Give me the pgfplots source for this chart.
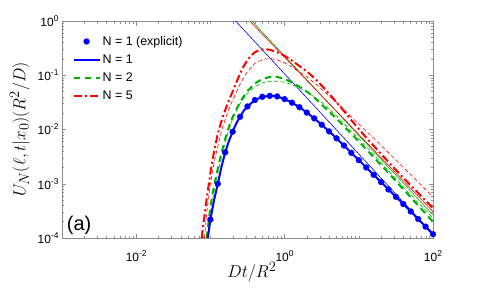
\documentclass[border=0pt]{standalone}
\usepackage{pgfplots}
\pgfplotsset{compat=1.18}
\usepackage{fontspec}
\setmainfont{Liberation Sans}
\definecolor{mblue}{rgb}{0,0,1}
\definecolor{mgreen}{rgb}{0,0.7,0}
\definecolor{mred}{rgb}{1,0,0}
\definecolor{axgray}{RGB}{140,140,140}
\newcommand{\tl}[1]{10\raisebox{0.8ex}{\fontsize{8.5}{9}\selectfont #1}}
\begin{document}
\begin{tikzpicture}
\begin{axis}[
  at={(0,0)}, anchor=south west,
  scale only axis, width=371bp, height=217bp,
  xmode=log, ymode=log,
  xmin=1e-3, xmax=1e2, ymin=1e-4, ymax=1,
  xtick={1e-2,1,1e2}, xticklabels={\tl{-2},\tl{0},\tl{2}},
  minor xtick={0.002,0.003,0.004,0.005,0.006,0.007,0.008,0.009,0.02,0.03,0.04,0.05,0.06,0.07,0.08,0.09,0.1,0.2,0.3,0.4,0.5,0.6,0.7,0.8,0.9,2,3,4,5,6,7,8,9,10,20,30,40,50,60,70,80,90},
  ytick={1e-4,1e-3,1e-2,1e-1,1}, yticklabels={\tl{-4},\tl{-3},\tl{-2},\tl{-1},\tl{0}},
  minor ytick={2e-4,3e-4,4e-4,5e-4,6e-4,7e-4,8e-4,9e-4,2e-3,3e-3,4e-3,5e-3,6e-3,7e-3,8e-3,9e-3,2e-2,3e-2,4e-2,5e-2,6e-2,7e-2,8e-2,9e-2,0.2,0.3,0.4,0.5,0.6,0.7,0.8,0.9},
  tick align=inside, major tick length=4.5bp, minor tick length=2.5bp,
  axis line style={axgray}, every tick/.style={axgray},
  tick label style={font=\fontsize{12}{14}\selectfont},
  xticklabel style={anchor=center, yshift=-18bp},
  xlabel={$Dt/R^2$}, ylabel={$U_N(\ell,t|x_0)(R^2/D)$},
  label style={font=\fontsize{19}{22}\selectfont},
  xlabel style={at={(axis description cs:0.512,-0.158)}, anchor=center},
  ylabel style={at={(axis description cs:-0.114,0.5)}, anchor=center},
  legend style={draw=none, fill=none, at={(axis description cs:0.028,0.94)}, anchor=north west,
    font=\fontsize{12.5}{14}\selectfont, row sep=4bp, inner sep=0pt},
  legend cell align=left,
  legend image code/.code={\draw[mark repeat=2,mark phase=2,#1] plot coordinates {(0bp,0bp) (13bp,0bp) (26bp,0bp)};},
]
% thin asymptotes
\addplot[forget plot, mblue, line width=0.6bp] coordinates {(0.1995,1.146) (100,1.175e-4)};
\addplot[forget plot, mgreen, line width=0.6bp] coordinates {(0.3162,1.225) (100,2.655e-4)};
\addplot[forget plot, mred, line width=0.6bp] coordinates {(0.3162,1.104) (100,3.055e-4)};
% thin dashed approximations
\addplot[forget plot, mgreen, line width=0.6bp, dash pattern=on 4bp off 2.5bp] coordinates {
(0.0912,1e-4) (0.1,2.818e-4) (0.1122,7.413e-4) (0.1259,1.585e-3) (0.1413,3.162e-3) (0.1585,5.754e-3)
(0.1778,1.0e-2) (0.1995,1.585e-2) (0.2512,3.020e-2) (0.3162,4.677e-2) (0.3981,6.166e-2) (0.5012,7.244e-2)
(0.6310,7.762e-2) (0.7943,7.762e-2) (1,7.413e-2) (1.259,6.761e-2) (1.585,5.888e-2) (1.995,4.898e-2)
(2.512,3.981e-2) (3.162,3.162e-2) (3.981,2.399e-2) (5.012,1.778e-2) (6.310,1.288e-2) (7.943,9.333e-3)
(10,6.761e-3) (15.85,3.467e-3) (25.12,1.738e-3) (39.81,8.710e-4) (63.10,4.467e-4) (100,2.344e-4)};
\addplot[forget plot, mred, line width=0.6bp, dash pattern=on 4bp off 2.5bp] coordinates {
(0.0832,1e-4) (0.0891,2.818e-4) (0.1,1e-3) (0.1122,2.399e-3) (0.1259,5.012e-3) (0.1413,9.333e-3)
(0.1585,1.549e-2) (0.1778,2.399e-2) (0.1995,3.467e-2) (0.2512,6.918e-2) (0.3162,1.175e-1) (0.3981,1.660e-1)
(0.5012,1.950e-1) (0.6310,2.042e-1) (0.7943,1.928e-1) (1,1.698e-1) (1.259,1.413e-1) (1.585,1.148e-1)
(1.995,9.333e-2) (2.512,7.244e-2) (3.162,5.495e-2) (3.981,4.169e-2) (5.012,3.162e-2) (6.310,2.344e-2)
(7.943,1.698e-2) (10,1.259e-2) (15.85,6.918e-3) (25.12,3.715e-3) (39.81,1.995e-3) (63.10,1.072e-3) (100,5.754e-4)};
% N = 5 thick dash-dot
\addplot[forget plot, mred, line width=2bp, dash pattern=on 8bp off 3bp on 2bp off 3bp] coordinates {
(0.0764,1e-4) (0.0794,1.585e-4) (0.0891,5.248e-4) (0.1,1.585e-3) (0.1122,3.981e-3) (0.1259,8.318e-3)
(0.1413,1.445e-2) (0.1585,2.291e-2) (0.1778,3.467e-2) (0.1995,5.012e-2) (0.2239,7.413e-2) (0.2512,1.072e-1)
(0.2818,1.479e-1) (0.3162,1.905e-1) (0.3548,2.317e-1) (0.3981,2.661e-1) (0.4467,2.884e-1) (0.5012,2.985e-1)
(0.5623,3.006e-1) (0.6310,2.951e-1) (0.7943,2.661e-1) (1,2.291e-1) (1.259,1.862e-1) (1.585,1.479e-1)
(1.995,1.175e-1) (2.512,8.913e-2) (3.162,6.457e-2) (3.981,4.571e-2) (5.012,3.162e-2) (6.310,2.188e-2)
(7.943,1.479e-2) (10,1.023e-2) (12.59,7.079e-3) (15.85,5.012e-3) (25.12,2.512e-3) (39.81,1.288e-3)
(63.10,6.761e-4) (100,3.548e-4)};
% N = 2 thick dashed
\addplot[forget plot, mgreen, line width=2bp, dash pattern=on 6.5bp off 4.5bp] coordinates {
(0.0891,1e-4) (0.1,3.802e-4) (0.1122,9.333e-4) (0.1259,1.905e-3) (0.1413,3.715e-3) (0.1585,6.761e-3)
(0.1778,1.109e-2) (0.1995,1.698e-2) (0.2512,3.236e-2) (0.3162,5.129e-2) (0.3981,7.079e-2) (0.5012,8.511e-2)
(0.6310,9.333e-2) (0.7079,9.441e-2) (0.7943,9.333e-2) (1,8.511e-2) (1.259,7.413e-2) (1.585,6.166e-2)
(1.995,5.012e-2) (2.512,3.890e-2) (3.162,2.884e-2) (3.981,2.138e-2) (5.012,1.585e-2) (6.310,1.148e-2)
(7.943,8.318e-3) (10,6.026e-3) (15.85,3.090e-3) (25.12,1.585e-3) (39.81,7.943e-4) (63.10,3.981e-4) (100,1.995e-4)};
% N = 1 solid
\addplot[forget plot, mblue, line width=2bp] coordinates {
(0.0923,1e-4) (0.1,2.188e-4) (0.1122,5.012e-4) (0.1259,1.0e-3) (0.1413,2.089e-3) (0.1585,3.802e-3)
(0.1778,6.166e-3) (0.1995,9.120e-3) (0.2239,1.303e-2) (0.2512,1.718e-2) (0.2818,2.223e-2) (0.3162,2.661e-2)
(0.3981,3.499e-2) (0.5012,4.009e-2) (0.6310,4.169e-2) (0.7943,4.074e-2) (1,3.631e-2) (1.259,3.126e-2)
(1.585,2.576e-2) (1.995,2.051e-2) (2.512,1.603e-2) (3.162,1.225e-2) (3.981,9.226e-3) (5.012,6.871e-3)
(6.310,5.070e-3) (7.943,3.715e-3) (10,2.723e-3) (12.59,1.995e-3) (15.85,1.462e-3) (19.95,1.072e-3)
(25.12,7.852e-4) (31.62,5.754e-4) (39.81,4.217e-4) (50.12,3.090e-4) (63.10,2.239e-4) (79.43,1.622e-4) (100,1.175e-4)};
% N = 1 explicit markers
\addplot[forget plot, only marks, mark=*, mark size=2.9bp, mblue] coordinates {
(0.1,2.188e-4) (0.1259,1.0e-3) (0.1585,3.802e-3) (0.1995,9.120e-3) (0.2512,1.718e-2) (0.3162,2.661e-2)
(0.3981,3.499e-2) (0.5012,4.009e-2) (0.6310,4.169e-2) (0.7943,4.074e-2) (1,3.631e-2) (1.259,3.126e-2)
(1.585,2.576e-2) (1.995,2.051e-2) (2.512,1.603e-2) (3.162,1.225e-2) (3.981,9.226e-3) (5.012,6.871e-3)
(6.310,5.070e-3) (7.943,3.715e-3) (10,2.723e-3) (12.59,1.995e-3) (15.85,1.462e-3) (19.95,1.072e-3)
(25.12,7.852e-4) (31.62,5.754e-4) (39.81,4.217e-4) (50.12,3.090e-4) (63.10,2.239e-4) (79.43,1.622e-4) (100,1.175e-4)};
\addlegendimage{only marks, mark=*, mark size=2.9bp, mblue}
\addlegendentry{N = 1 (explicit)}
\addlegendimage{mblue, line width=2bp}
\addlegendentry{N = 1}
\addlegendimage{mgreen, line width=2bp, dash pattern=on 6.5bp off 4.5bp}
\addlegendentry{N = 2}
\addlegendimage{mred, line width=2bp, dash pattern=on 8bp off 3bp on 2bp off 3bp}
\addlegendentry{N = 5}
\node[font=\fontsize{20}{22}\selectfont, anchor=center] at (rel axis cs:0.046,0.06) {(a)};
\end{axis}
\path (-62bp,-50bp) rectangle (418bp,238bp);
\end{tikzpicture}
\end{document}
